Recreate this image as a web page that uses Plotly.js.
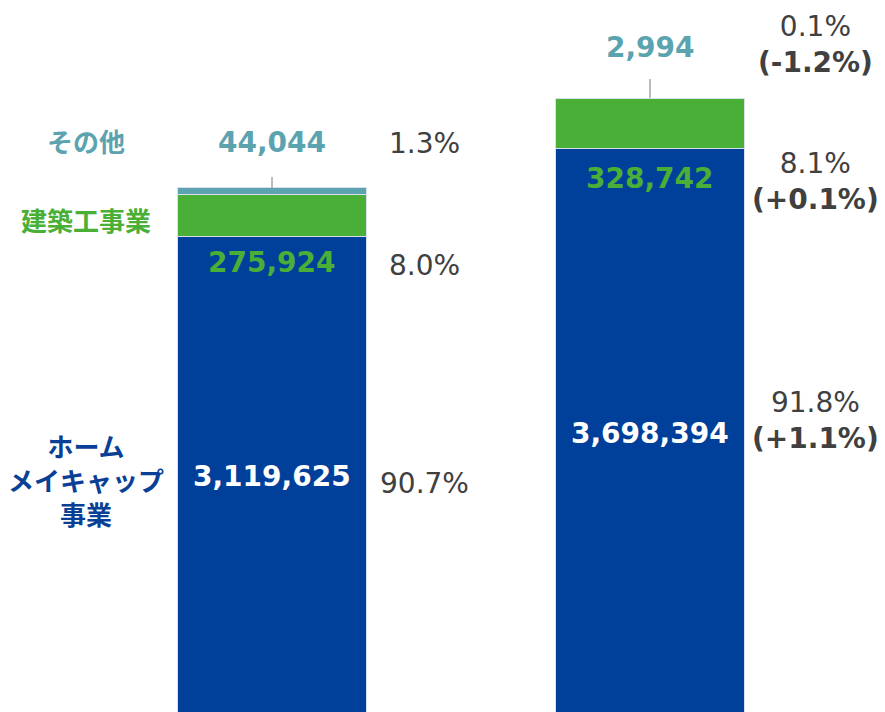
<!DOCTYPE html>
<html>
<head>
<meta charset="utf-8">
<script src="https://cdn.plot.ly/plotly-3.0.1.min.js"></script>
<style>html,body{margin:0;padding:0;background:#fff;}#chart{width:885px;height:712px;}</style>
</head>
<body>
<div id="chart"></div>
<script>
// ---- data ----
const periods = ["前期", "当期"];
const homeMakeup = [3119625, 3698394];
const construction = [275924, 328742];
const other = [44044, 2994];
const shareHome = ["90.7%", "91.8%"];
const changeHome = ["", "(+1.1%)"];
const shareConstruction = ["8.0%", "8.1%"];
const changeConstruction = ["", "(+0.1%)"];
const shareOther = ["1.3%", "0.1%"];
const changeOther = ["", "(-1.2%)"];
const segmentNames = ["ホーム<br>メイキャップ<br>事業", "建築工事業", "その他"];

// ---- styles ----
const cBlue = "#00409A", cGreen = "#4AAF36", cTeal = "#5BA3AF", cGray = "#404040";
const numFont = (c) => ({family: "DejaVu Sans, Verdana, sans-serif", size: 28, color: c, weight: "bold"});
const pctFont = {family: "DejaVu Sans, Verdana, sans-serif", size: 28, color: cGray};
const jpFont = (c) => ({family: "Noto Sans CJK JP, sans-serif", size: 26, color: c, weight: "bold"});
const fmt = (v) => v.toLocaleString("en-US");

const barLine = {color: "#d8e0ec", width: 1};
const traces = [
  {type: "bar", x: periods, y: homeMakeup, marker: {color: cBlue, line: barLine}, width: 0.5, hoverinfo: "skip"},
  {type: "bar", x: periods, y: construction, marker: {color: cGreen, line: barLine}, width: 0.5, hoverinfo: "skip"},
  {type: "bar", x: periods, y: other, marker: {color: cTeal, line: barLine}, width: 0.5, hoverinfo: "skip"}
];

// per-bar pixel offsets (layout only)
const off = [
  {homeNum: -2, homePct: -9, conNum: -26, conPct: -29, othNum: 45, othPct: 44, pctX: 152},
  {homeNum: -3, homePct: 10, conNum: -30, conPct: -33, othNum: 51, othPct: 54, pctX: 165}
];

const ann = [];
const pctText = (s, c) => c ? s + "<br><b>" + c + "</b>" : s;
periods.forEach((p, i) => {
  const homeTop = homeMakeup[i];
  const conTop = homeMakeup[i] + construction[i];
  const total = conTop + other[i];
  const o = off[i];
  const base = {x: p, xref: "x", yref: "y", showarrow: false, xanchor: "center", yanchor: "middle"};
  ann.push(Object.assign({}, base, {y: homeTop / 2, yshift: o.homeNum, text: fmt(homeMakeup[i]), font: numFont("#ffffff")}));
  ann.push(Object.assign({}, base, {y: homeTop, yshift: o.conNum, text: fmt(construction[i]), font: numFont(cGreen)}));
  ann.push(Object.assign({}, base, {y: total, yshift: o.othNum, text: fmt(other[i]), font: numFont(cTeal)}));
  ann.push(Object.assign({}, base, {y: homeTop / 2, yshift: o.homePct, xshift: o.pctX, text: pctText(shareHome[i], changeHome[i]), font: pctFont}));
  ann.push(Object.assign({}, base, {y: homeTop, yshift: o.conPct, xshift: o.pctX, text: pctText(shareConstruction[i], changeConstruction[i]), font: pctFont}));
  ann.push(Object.assign({}, base, {y: total, yshift: o.othPct, xshift: o.pctX, text: pctText(shareOther[i], changeOther[i]), font: pctFont}));
});
// segment names on the left of the first bar
const b0 = {x: periods[0], xref: "x", yref: "y", showarrow: false, xanchor: "center", yanchor: "middle", xshift: -186};
ann.push(Object.assign({}, b0, {y: homeMakeup[0] / 2, yshift: -5, text: segmentNames[0], font: jpFont("#0A3F96")}));
ann.push(Object.assign({}, b0, {y: homeMakeup[0] + construction[0] / 2, yshift: -4, text: segmentNames[1], font: jpFont(cGreen)}));
ann.push(Object.assign({}, b0, {y: homeMakeup[0] + construction[0] + other[0], yshift: 47, text: segmentNames[2], font: jpFont(cTeal)}));

// leader lines from "other" segments
const leaderLen = [11, 19];
const shapes = periods.map((p, i) => ({
  type: "line", xref: "x", yref: "y", ysizemode: "pixel",
  yanchor: homeMakeup[i] + construction[i] + other[i],
  x0: i, x1: i, y0: 0, y1: leaderLen[i],
  line: {color: "#a6a6a6", width: 1.5}
}));

const layout = {
  width: 885, height: 712,
  margin: {l: 0, r: 0, t: 0, b: 0},
  paper_bgcolor: "#ffffff", plot_bgcolor: "#ffffff",
  barmode: "stack", showlegend: false,
  xaxis: {type: "category", range: [-0.7196, 1.6217], visible: false, fixedrange: true},
  yaxis: {range: [0, 4673400], visible: false, fixedrange: true},
  annotations: ann, shapes: shapes
};
Plotly.newPlot("chart", traces, layout, {staticPlot: true, displayModeBar: false});
</script>
</body>
</html>
